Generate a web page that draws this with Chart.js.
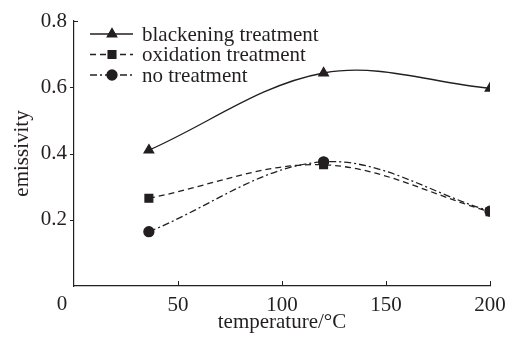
<!DOCTYPE html>
<html>
<head>
<meta charset="utf-8">
<script src="https://cdn.jsdelivr.net/npm/chart.js@4"></script>
<style>
    html, body { margin: 0; padding: 0; background: #fff; }
    #wrap { width: 513px; height: 338px; }
</style>
</head>
<body>
<div id="wrap"><canvas id="chart"></canvas></div>
<script>
const temperatures = [36, 120, 200];
const blackening = [0.41, 0.643, 0.597];
const oxidation = [0.265, 0.366, 0.224];
const noTreatment = [0.164, 0.375, 0.226];
const seriesNames = ["blackening treatment", "oxidation treatment", "no treatment"];
const xTicks = [0, 50, 100, 150, 200];
const yTicks = [0.2, 0.4, 0.6, 0.8];

const ink = "#231f20";
const font = "Liberation Serif";
const fontSize = 21;

function toPoints(values) {
    return values.map((v, i) => ({ x: temperatures[i], y: v }));
}

const datasets = [
    { label: seriesNames[0], data: toPoints(blackening), pointStyle: "triangle", pointRadius: 5.5, borderDash: [] },
    { label: seriesNames[1], data: toPoints(oxidation), pointStyle: "rect", pointRadius: 5.5, borderDash: [6, 4] },
    { label: seriesNames[2], data: toPoints(noTreatment), pointStyle: "circle", pointRadius: 5, borderDash: [7, 3, 2, 3] },
].map(ds => Object.assign(ds, {
    borderColor: ink,
    backgroundColor: ink,
    pointBackgroundColor: ink,
    pointBorderColor: ink,
    borderWidth: 1.3,
    tension: 0.35,
    fill: false,
}));

// inner tick marks, the shifted "0" label and the line+marker legend
const decorations = {
    id: "decorations",
    afterDraw(chart) {
        const ctx = chart.ctx;
        const xs = chart.scales.x;
        const ys = chart.scales.y;
        ctx.save();
        ctx.strokeStyle = ink;
        ctx.lineWidth = 1;
        ctx.setLineDash([]);
        xTicks.forEach(t => {
            if (t === 0) return;
            const px = Math.round(xs.getPixelForValue(t)) + 0.5;
            ctx.beginPath();
            ctx.moveTo(px, ys.bottom);
            ctx.lineTo(px, ys.bottom - 5);
            ctx.stroke();
        });
        yTicks.forEach(t => {
            const py = Math.round(ys.getPixelForValue(t)) + 0.5;
            ctx.beginPath();
            if (t === 0.8) {
                ctx.moveTo(xs.left, py);
                ctx.lineTo(xs.left + 4, py);
            } else {
                ctx.moveTo(xs.left - 4, py);
                ctx.lineTo(xs.left, py);
            }
            ctx.stroke();
        });

        ctx.fillStyle = ink;
        ctx.font = fontSize + "px '" + font + "'";
        ctx.textAlign = "center";
        ctx.textBaseline = "middle";
        ctx.fillText("0", 62, 304);

        // legend
        ctx.textAlign = "left";
        chart.data.datasets.forEach((ds, i) => {
            const y = 34 + i * 20.5;
            ctx.lineWidth = ds.borderWidth;
            ctx.setLineDash(ds.borderDash);
            ctx.beginPath();
            ctx.moveTo(90, y);
            ctx.lineTo(133, y);
            ctx.stroke();
            ctx.setLineDash([]);
            Chart.helpers.drawPoint(ctx, {
                pointStyle: ds.pointStyle,
                radius: ds.pointRadius,
                borderWidth: 1,
                rotation: 0,
            }, 112, y);
            ctx.fill();
            ctx.fillText(ds.label, 142, y + 1);
        });
        ctx.restore();
    }
};

new Chart(document.getElementById("chart"), {
    type: "line",
    data: { datasets: datasets },
    options: {
        responsive: true,
        maintainAspectRatio: false,
        animation: false,
        layout: { padding: { left: 0, top: 21, right: 23, bottom: 0 } },
        plugins: {
            legend: { display: false },
            tooltip: { enabled: false },
        },
        scales: {
            x: {
                type: "linear",
                min: 0,
                max: 200,
                afterBuildTicks: scale => { scale.ticks = xTicks.map(v => ({ value: v })); },
                afterFit: scale => { scale.height = 52; },
                grid: { display: false, drawTicks: false },
                border: { display: true, color: ink, width: 1.2 },
                ticks: {
                    color: ink,
                    padding: 7,
                    maxRotation: 0,
                    font: { family: font, size: fontSize },
                    callback: v => (v === 0 ? "" : String(v)),
                },
                title: {
                    display: true,
                    text: "temperature/°C",
                    color: ink,
                    font: { family: font, size: fontSize },
                    padding: { top: 0, bottom: 3 },
                },
            },
            y: {
                min: 0,
                max: 0.8,
                afterBuildTicks: scale => { scale.ticks = yTicks.map(v => ({ value: v })); },
                afterFit: scale => { scale.width = 74; },
                grid: { display: false, drawTicks: false },
                border: { display: true, color: ink, width: 1.2 },
                ticks: {
                    color: ink,
                    padding: 7,
                    font: { family: font, size: fontSize },
                    callback: v => v.toFixed(1),
                },
                title: {
                    display: true,
                    text: "emissivity",
                    color: ink,
                    font: { family: font, size: fontSize },
                    padding: { top: 10, bottom: 0 },
                },
            },
        },
    },
    plugins: [decorations],
});
</script>
</body>
</html>
